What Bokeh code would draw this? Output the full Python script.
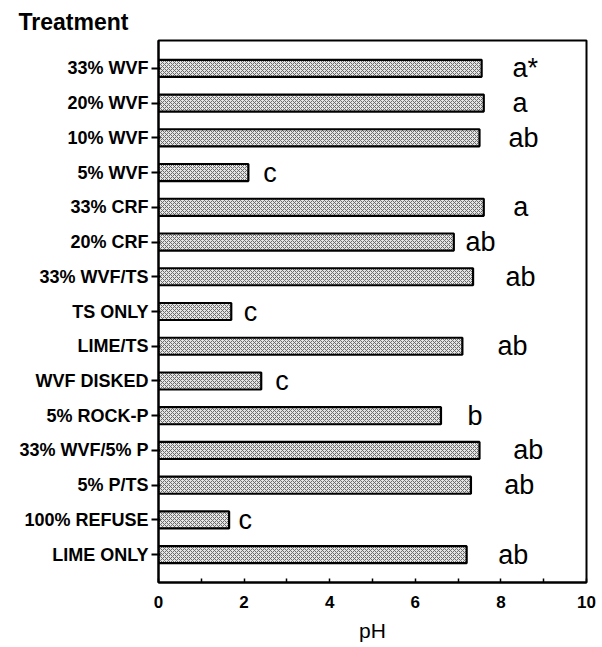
from bokeh.plotting import figure
from bokeh.models import FixedTicker, SingleIntervalTicker, ColumnDataSource
from bokeh.core.properties import value
from bokeh.embed import file_html
from bokeh.resources import INLINE

# Data (top to bottom)
treatments = ["33% WVF", "20% WVF", "10% WVF", "5% WVF", "33% CRF", "20% CRF",
              "33% WVF/TS", "TS ONLY", "LIME/TS", "WVF DISKED", "5% ROCK-P",
              "33% WVF/5% P", "5% P/TS", "100% REFUSE", "LIME ONLY"]
ph = [7.55, 7.6, 7.5, 2.1, 7.6, 6.9, 7.35, 1.7, 7.1, 2.4, 6.6, 7.5, 7.3, 1.65, 7.2]
groups = ["a*", "a", "ab", "c", "a", "ab", "ab", "c", "ab", "c", "b", "ab", "ab", "c", "ab"]
group_x = [8.27, 8.27, 8.18, 2.45, 8.29, 7.17, 8.11, 1.99, 7.92, 2.73, 7.22, 8.29, 8.08, 1.87, 7.94]
x_ticks = [0, 2, 4, 6, 8, 10]

n = len(treatments)
ypos = [n - i for i in range(n)]

src = ColumnDataSource(dict(y=ypos, ph=ph, name=treatments, g=groups, gx=group_x))

FONT = "Liberation Sans"

p = figure(width=598, height=644, x_range=(0, 10), y_range=(0.2, 15.8),
           output_backend="svg", toolbar_location=None,
           min_border_left=158, min_border_right=12, min_border_top=40, min_border_bottom=58)

p.title.text = "Treatment"
p.title.align = "left"
p.title.offset = -140
p.title.text_font = FONT
p.title.text_font_size = "23px"
p.title.text_font_style = "bold"
p.title.text_color = "black"
p.title.standoff = 11

p.xgrid.visible = False
p.ygrid.visible = False
p.outline_line_color = "black"
p.outline_line_width = 2
p.outline_line_alpha = 1
p.background_fill_color = "white"
p.border_fill_color = "white"

p.hbar(y="y", right="ph", left=0, height=0.49, source=src,
       fill_color="#e4e4e4", hatch_pattern="diagonal_cross", hatch_color="#6a6a6a",
       hatch_scale=4, hatch_weight=1, line_color="black", line_width=2.2)

p.text(x="gx", y="y", text="g", source=src, text_font=value(FONT),
       text_font_size="27px", text_baseline="middle", text_align="left", text_color="black")

# y axis
yax = p.yaxis[0]
yax.ticker = FixedTicker(ticks=ypos)
yax.major_label_overrides = {y: t for y, t in zip(ypos, treatments)}
yax.minor_tick_line_color = None
yax.major_tick_out = 7
yax.major_tick_in = 2
yax.major_tick_line_width = 2
yax.axis_line_width = 2
yax.axis_line_color = "black"
yax.major_label_text_font = FONT
yax.major_label_text_font_size = "18px"
yax.major_label_text_font_style = "bold"
yax.major_label_text_color = "black"
yax.major_label_standoff = 3

# x axis
xax = p.xaxis[0]
xax.ticker = SingleIntervalTicker(interval=2, num_minor_ticks=2)
xax.major_tick_in = 0
xax.major_tick_out = 0
xax.minor_tick_in = 4
xax.minor_tick_out = 0
xax.minor_tick_line_width = 1.5
xax.axis_line_width = 2
xax.axis_line_color = "black"
xax.major_label_text_font = FONT
xax.major_label_text_font_size = "17px"
xax.major_label_text_font_style = "bold"
xax.major_label_text_color = "black"
xax.major_label_standoff = 13
xax.axis_label = "pH"
xax.axis_label_text_font = FONT
xax.axis_label_text_font_size = "21px"
xax.axis_label_text_font_style = "normal"
xax.axis_label_text_color = "black"
xax.axis_label_standoff = 8

open("out.html", "w").write(file_html(p, INLINE))
